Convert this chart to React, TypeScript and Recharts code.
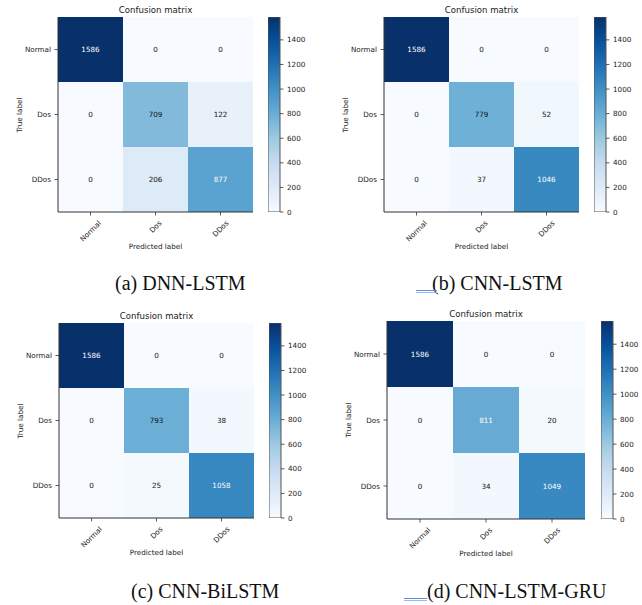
import React from 'react';
import { BarChart, Bar, XAxis, YAxis, Cell, LabelList } from 'recharts';

// class names shared by both axes
const classes = ['Normal', 'Dos', 'DDos'];

// confusion matrices, rows = true label, cols = predicted label
const dnnLstm = [
  [1586, 0, 0],
  [0, 709, 122],
  [0, 206, 877],
];
const cnnLstm = [
  [1586, 0, 0],
  [0, 779, 52],
  [0, 37, 1046],
];
const cnnBiLstm = [
  [1586, 0, 0],
  [0, 793, 38],
  [0, 25, 1058],
];
const cnnLstmGru = [
  [1586, 0, 0],
  [0, 811, 20],
  [0, 34, 1049],
];

const colorbarTicks = [0, 200, 400, 600, 800, 1000, 1200, 1400];
const captions = ['(a) DNN-LSTM', '(b) CNN-LSTM', '(c) CNN-BiLSTM', '(d) CNN-LSTM-GRU'];

const BLUES = ['#f7fbff', '#deebf7', '#c6dbef', '#9ecae1', '#6baed6', '#4292c6', '#2171b5', '#08519c', '#08306b'];
const MPL_FONT = '"DejaVu Sans", sans-serif';
const TXT = '#222';
const AX = '#333';
const FS = 7.2;

const hex = (h: string) => [1, 3, 5].map((i) => parseInt(h.slice(i, i + 2), 16));
const blues = (t: number) => {
  const p = Math.max(0, Math.min(1, t)) * (BLUES.length - 1);
  const i = Math.min(Math.floor(p), BLUES.length - 2);
  const f = p - i;
  const a = hex(BLUES[i]);
  const b = hex(BLUES[i + 1]);
  return 'rgb(' + a.map((v, k) => Math.round(v + (b[k] - v) * f)).join(',') + ')';
};

let ctx: CanvasRenderingContext2D | null = null;
const textWidth = (s: string) => {
  if (!ctx) ctx = document.createElement('canvas').getContext('2d');
  if (!ctx) return s.length * FS * 0.6;
  ctx.font = FS + 'px "DejaVu Sans"';
  return ctx.measureText(s).width;
};

// matplotlib style xticks(rotation=45), centred under the tick
const RotTick = (props: any) => {
  const { x, y, payload } = props;
  const w = textWidth(String(payload.value));
  const cy = y + ((w + FS * 1.15) * Math.SQRT1_2) / 2;
  return (
    <text
      x={x}
      y={cy}
      transform={`rotate(-45 ${x} ${cy})`}
      textAnchor="middle"
      dominantBaseline="central"
      fontSize={FS}
      fontFamily={MPL_FONT}
      fill={TXT}
    >
      {payload.value}
    </text>
  );
};

const layout = [
  { x0: 58, y0: 17, w: 195, h: 195, cbX: 268, cbW: 12, capX: 115, capY: 273, ul: null },
  { x0: 384, y0: 17, w: 195, h: 195, cbX: 594, cbW: 12, capX: 432, capY: 273, ul: { x: 416, w: 21, y: 290 } },
  { x0: 59, y0: 323, w: 195, h: 195, cbX: 269, cbW: 12, capX: 131, capY: 581, ul: null },
  { x0: 387, y0: 321, w: 198, h: 198, cbX: 601, cbW: 12, capX: 427, capY: 581, ul: { x: 404, w: 23, y: 598 } },
];

const Panel = ({ matrix, idx }: { matrix: number[][]; idx: number }) => {
  const L = layout[idx];
  const vmax = Math.max(...matrix.flat());
  const thresh = vmax / 2;
  const data = classes.map((c, j) => {
    const row: any = { pred: c };
    classes.forEach((_, i) => {
      row['r' + i] = 1;
      row['v' + i] = matrix[i][j];
    });
    return row;
  });
  const padL = 60;
  const padT = 20;
  const padB = 45;
  const gid = 'cbgrad' + idx;

  const CellLabel = (p: any) => {
    const { x, y, width, height, value } = p;
    return (
      <text
        x={x + width / 2}
        y={y + height / 2}
        textAnchor="middle"
        dominantBaseline="central"
        fontSize={FS}
        fontFamily={MPL_FONT}
        fill={value > thresh ? '#fff' : '#111'}
      >
        {value}
      </text>
    );
  };

  const base: React.CSSProperties = { position: 'absolute', fontFamily: MPL_FONT, color: TXT, whiteSpace: 'nowrap', lineHeight: 1 };

  return (
    <>
      <div style={{ position: 'absolute', left: L.x0 - padL, top: L.y0 - padT }}>
        <BarChart
          width={L.w + padL + 2}
          height={L.h + padT + padB}
          data={data}
          margin={{ top: padT, right: 2, bottom: padB - 40, left: padL - 50 }}
          barCategoryGap={0}
          barGap={0}
        >
          <XAxis
            dataKey="pred"
            height={40}
            tickSize={3.5}
            tickMargin={3.5}
            tick={<RotTick />}
            tickLine={{ stroke: AX, strokeWidth: 0.8 }}
            axisLine={{ stroke: AX, strokeWidth: 1 }}
            interval={0}
          />
          <XAxis xAxisId="top" orientation="top" dataKey="pred" height={0} tick={false} tickLine={false} axisLine={{ stroke: AX, strokeWidth: 1 }} />
          <YAxis
            type="number"
            domain={[0, classes.length]}
            reversed
            width={50}
            ticks={classes.map((_, i) => i + 0.5)}
            tickFormatter={(v: number) => classes[Math.floor(v)]}
            tickSize={3.5}
            tickMargin={3.5}
            tick={{ fontSize: FS, fontFamily: MPL_FONT, fill: TXT }}
            tickLine={{ stroke: AX, strokeWidth: 0.8 }}
            axisLine={{ stroke: AX, strokeWidth: 1 }}
            allowDataOverflow
          />
          <YAxis yAxisId="right" orientation="right" type="number" domain={[0, classes.length]} width={0} tick={false} tickLine={false} axisLine={{ stroke: AX, strokeWidth: 1 }} />
          {classes.map((_, i) => (
            <Bar key={i} dataKey={'r' + i} stackId="m" isAnimationActive={false}>
              {classes.map((__, j) => (
                <Cell key={j} fill={blues(matrix[i][j] / vmax)} />
              ))}
              <LabelList dataKey={'v' + i} content={<CellLabel />} isAnimationActive={false} />
            </Bar>
          ))}
        </BarChart>
      </div>

      <div style={{ position: 'absolute', left: L.cbX, top: L.y0 - padT }}>
        <BarChart
          width={L.cbW + 40}
          height={L.h + padT + 10}
          data={[{ k: 'cb', v: vmax }]}
          margin={{ top: padT, right: 0, bottom: 10, left: 0 }}
          barCategoryGap={0}
        >
          <defs>
            <linearGradient id={gid} x1="0" y1="1" x2="0" y2="0">
              {BLUES.map((c, i) => (
                <stop key={i} offset={i / (BLUES.length - 1)} stopColor={c} />
              ))}
            </linearGradient>
          </defs>
          <XAxis dataKey="k" hide />
          <YAxis
            orientation="right"
            type="number"
            domain={[0, vmax]}
            ticks={colorbarTicks}
            width={40}
            tickSize={3.5}
            tickMargin={3.5}
            tick={{ fontSize: FS, fontFamily: MPL_FONT, fill: TXT, textAnchor: 'start' }}
            tickLine={{ stroke: AX, strokeWidth: 0.8 }}
            axisLine={false}
            allowDataOverflow
          />
          <Bar dataKey="v" fill={`url(#${gid})`} stroke="#555" strokeWidth={1} isAnimationActive={false} />
        </BarChart>
      </div>

      <div style={{ ...base, fontSize: 8.6, left: L.x0 + L.w / 2, top: L.y0 - 7, transform: 'translate(-50%, -50%)' }}>Confusion matrix</div>
      <div style={{ ...base, fontSize: FS, left: L.x0 + L.w / 2, top: L.y0 + L.h + 35, transform: 'translate(-50%, -50%)' }}>Predicted label</div>
      <div style={{ ...base, fontSize: FS, left: L.x0 - 38, top: L.y0 + L.h / 2, transform: 'translate(-50%, -50%) rotate(-90deg)' }}>True label</div>
      <div style={{ position: 'absolute', left: L.capX, top: L.capY, fontFamily: '"Liberation Serif", serif', fontSize: 20, lineHeight: 1, color: '#111', whiteSpace: 'nowrap' }}>
        {captions[idx]}
      </div>
      {L.ul && (
        <>
          <div style={{ position: 'absolute', left: L.ul.x, top: L.ul.y, width: L.ul.w, height: 1, background: '#5d8de6' }} />
          <div style={{ position: 'absolute', left: L.ul.x, top: L.ul.y + 2, width: L.ul.w, height: 1, background: '#9bb8f0' }} />
        </>
      )}
    </>
  );
};

export default function App() {
  const mats = [dnnLstm, cnnLstm, cnnBiLstm, cnnLstmGru];
  return (
    <div style={{ position: 'absolute', left: 0, top: 0, width: 642, height: 605, background: '#fff', overflow: 'hidden' }}>
      {mats.map((m, i) => (
        <Panel key={i} matrix={m} idx={i} />
      ))}
    </div>
  );
}
